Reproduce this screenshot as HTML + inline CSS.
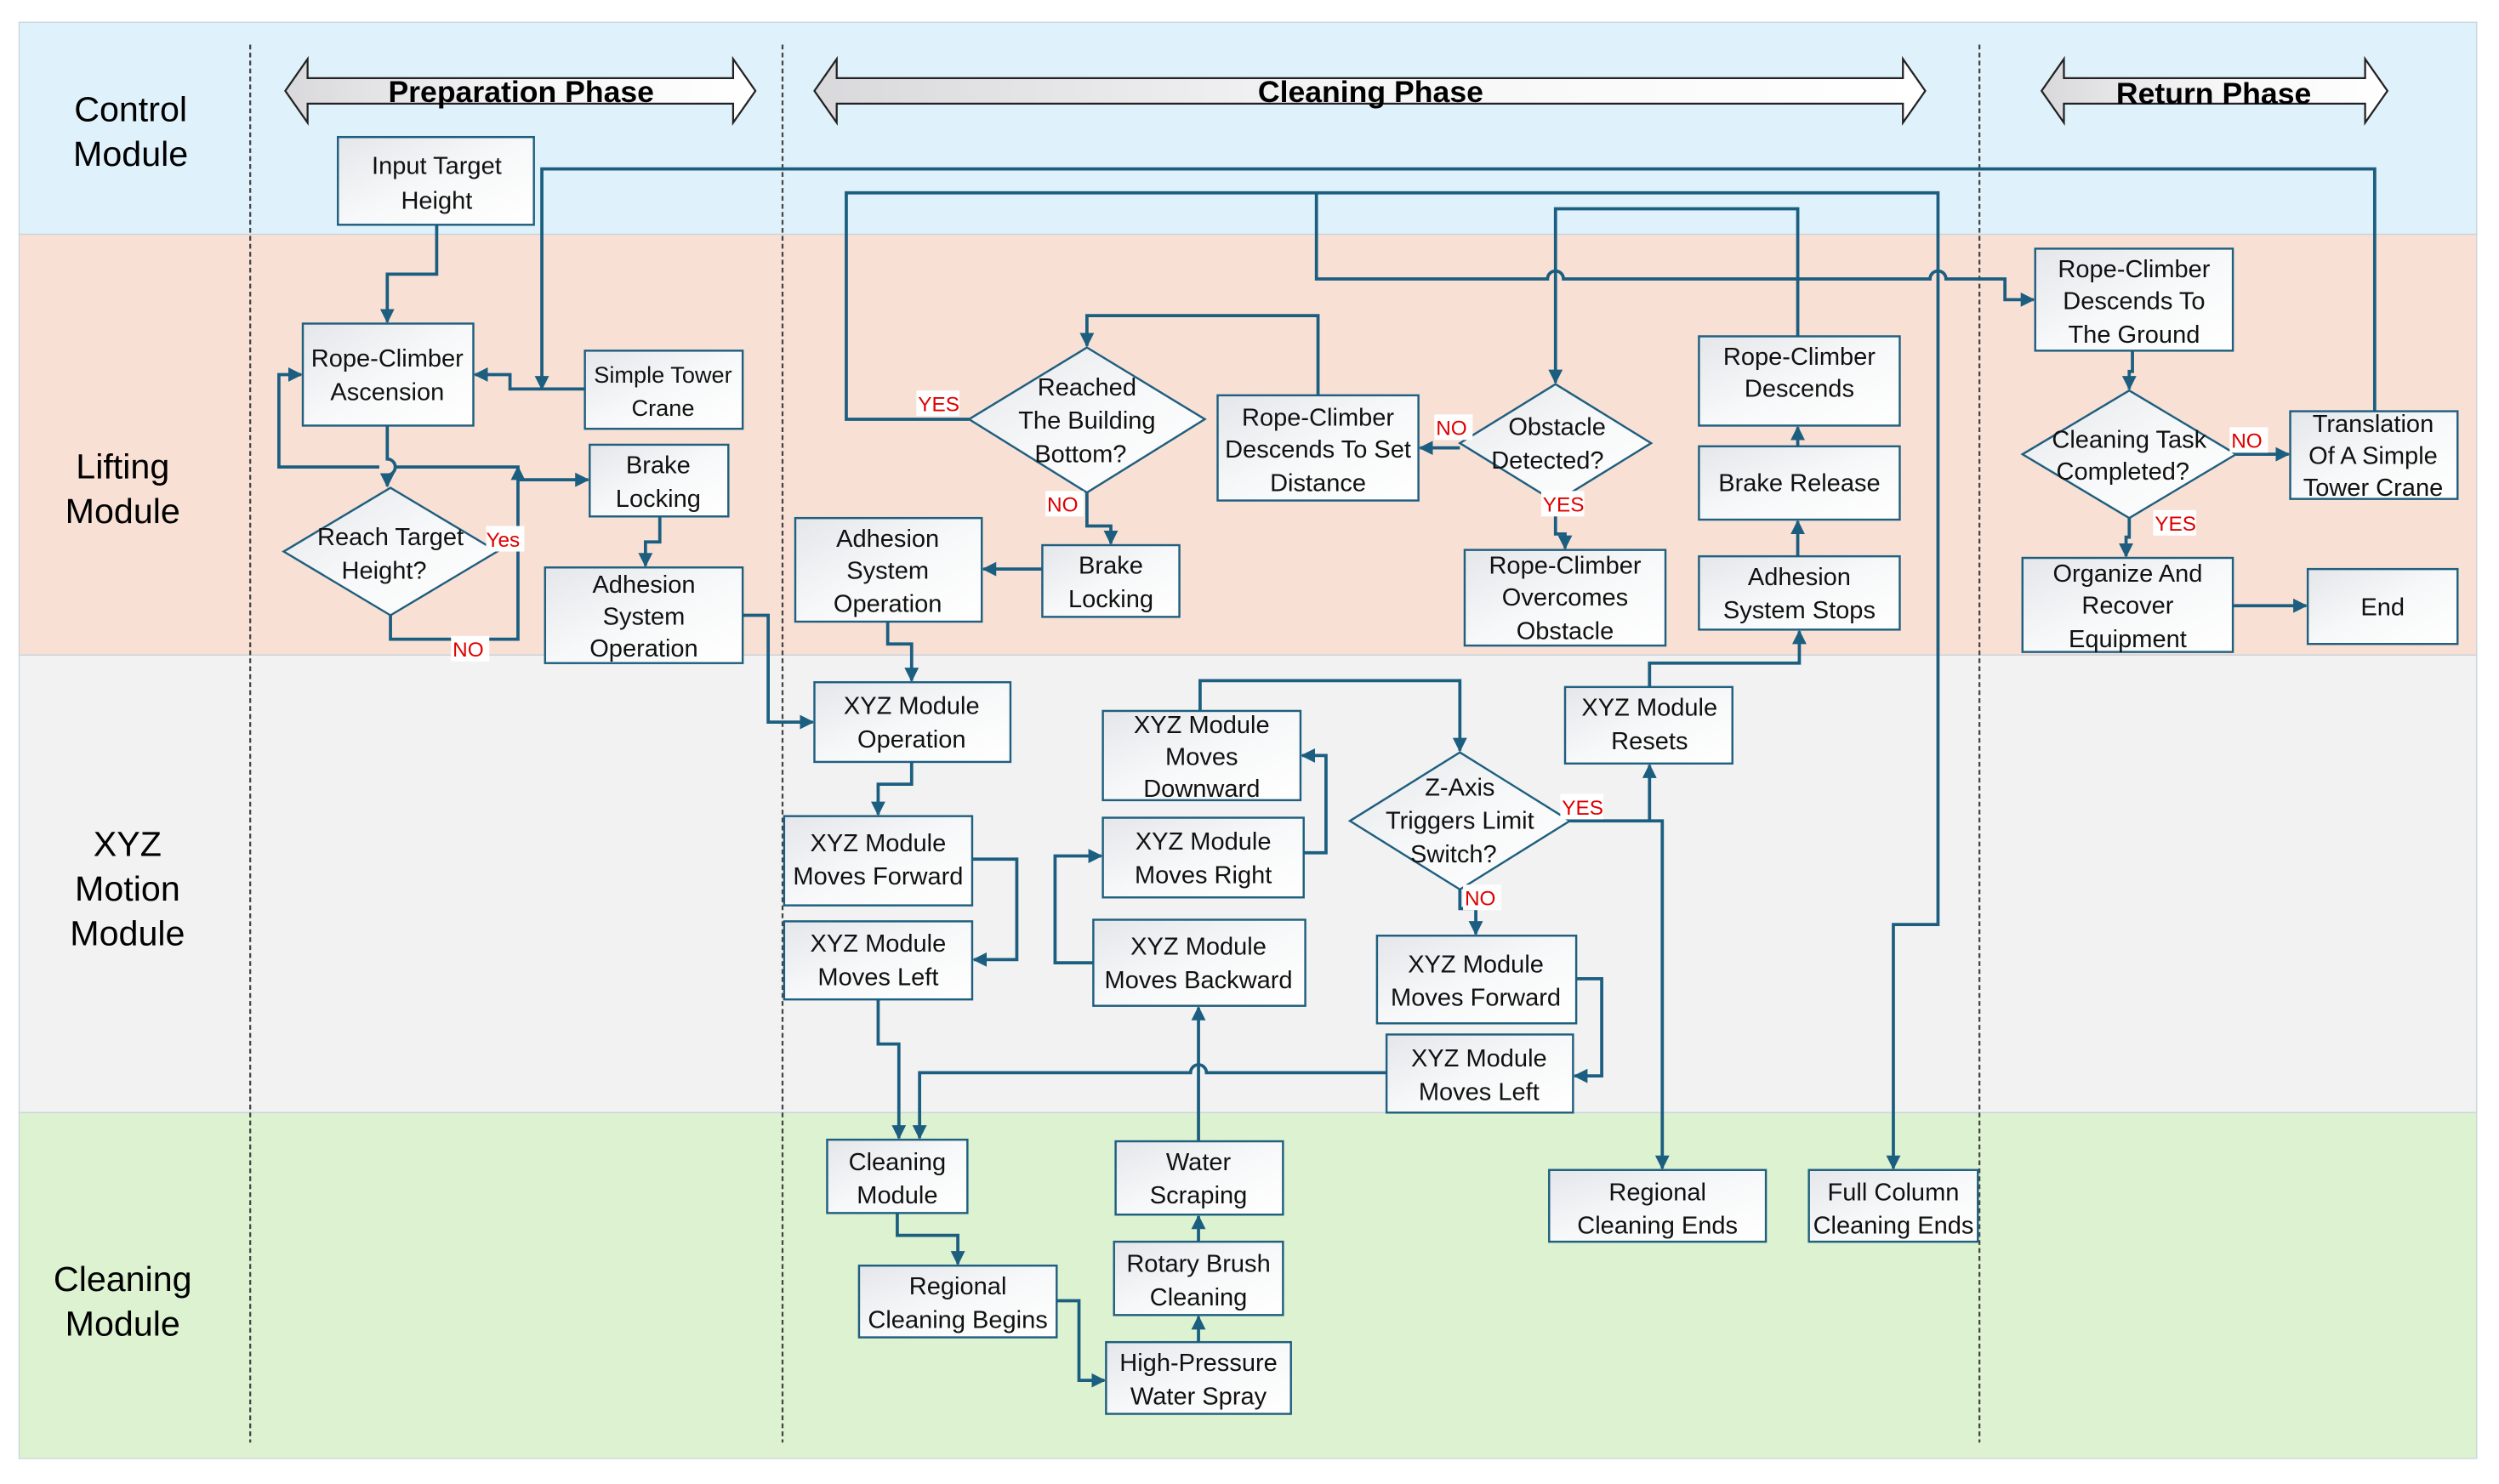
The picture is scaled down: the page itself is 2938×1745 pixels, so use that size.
<!DOCTYPE html>
<html><head><meta charset="utf-8"><style>
html,body{margin:0;padding:0;background:#fff;}
svg{display:block;}
text{font-family:"Liberation Sans","Noto Sans CJK SC",sans-serif;}
</style></head><body>
<svg width="2938" height="1745" viewBox="0 0 1568 931" preserveAspectRatio="none" xmlns="http://www.w3.org/2000/svg">
<defs>
<linearGradient id="g" x1="0" y1="0" x2="1" y2="1"><stop offset="0" stop-color="#e4e6ea"/><stop offset="0.5" stop-color="#f7f8f9"/><stop offset="1" stop-color="#ffffff"/></linearGradient>
<linearGradient id="ga" x1="0" y1="0" x2="1" y2="0"><stop offset="0" stop-color="#d9d9dc"/><stop offset="0.5" stop-color="#f6f6f7"/><stop offset="1" stop-color="#ffffff"/></linearGradient>
<marker id="a" viewBox="0 0 10 10" refX="9" refY="5" markerWidth="4.5" markerHeight="4.5" orient="auto-start-reverse" markerUnits="strokeWidth"><path d="M0,0 L10,5 L0,10 z" fill="#1b5e80"/></marker>
</defs>
<!-- lanes -->
<rect x="12" y="14" width="1542" height="133" fill="#dff1fa" stroke="#c8d4da" stroke-width="0.7"/>
<rect x="12" y="147" width="1542" height="264" fill="#f9e0d5" stroke="#c8d4da" stroke-width="0.7"/>
<rect x="12" y="411" width="1542" height="287" fill="#f2f2f2" stroke="#c8d4da" stroke-width="0.7"/>
<rect x="12" y="698" width="1542" height="217" fill="#dcf2d0" stroke="#c8d4da" stroke-width="0.7"/>
<g stroke="#444" stroke-width="1.2" stroke-dasharray="3,2">
<line x1="157" y1="28" x2="157" y2="905"/><line x1="491" y1="28" x2="491" y2="905"/><line x1="1242" y1="28" x2="1242" y2="905"/></g>
<g font-size="22" text-anchor="middle" fill="#000" font-weight="500">
<text x="82" y="76">Control</text><text x="82" y="104">Module</text>
<text x="77" y="300">Lifting</text><text x="77" y="328">Module</text>
<text x="80" y="537">XYZ</text><text x="80" y="565">Motion</text><text x="80" y="593">Module</text>
<text x="77" y="810">Cleaning</text><text x="77" y="838">Module</text></g>
<!-- phase arrows -->
<g fill="url(#ga)" stroke="#222" stroke-width="1.2">
<path d="M179,57 L193,37 L193,49 L460,49 L460,37 L474,57 L460,77 L460,65 L193,65 L193,77 Z"/>
<path d="M511,57 L525,37 L525,49 L1194,49 L1194,37 L1208,57 L1194,77 L1194,65 L525,65 L525,77 Z"/>
<path d="M1281,57 L1295,37 L1295,49 L1484,49 L1484,37 L1498,57 L1484,77 L1484,65 L1295,65 L1295,77 Z"/>
</g>
<g font-size="19" font-weight="bold" text-anchor="middle"><text x="327" y="64">Preparation Phase</text><text x="860" y="64">Cleaning Phase</text><text x="1389" y="65">Return Phase</text></g>

<!-- boxes -->
<g fill="url(#g)" stroke="#1f5f7f" stroke-width="1.3">
<rect x="212" y="86" width="123" height="55"/>
<rect x="190" y="203" width="107" height="64"/>
<rect x="367" y="220" width="99" height="49"/>
<rect x="370" y="279" width="87" height="45"/>
<rect x="342" y="356" width="124" height="60"/>
<rect x="499" y="325" width="117" height="65"/>
<rect x="764" y="248" width="126" height="66"/>
<rect x="654" y="342" width="86" height="45"/>
<rect x="919" y="345" width="126" height="60"/>
<rect x="1066" y="211" width="126" height="56"/>
<rect x="1066" y="280" width="126" height="46"/>
<rect x="1066" y="349" width="126" height="46"/>
<rect x="511" y="428" width="123" height="50"/>
<rect x="982" y="431" width="105" height="48"/>
<rect x="692" y="446" width="124" height="56"/>
<rect x="492" y="512" width="118" height="56"/>
<rect x="692" y="513" width="126" height="50"/>
<rect x="492" y="578" width="118" height="49"/>
<rect x="686" y="577" width="133" height="54"/>
<rect x="864" y="587" width="125" height="55"/>
<rect x="870" y="649" width="117" height="49"/>
<rect x="519" y="715" width="88" height="46"/>
<rect x="700" y="716" width="105" height="46"/>
<rect x="972" y="734" width="136" height="45"/>
<rect x="1135" y="734" width="106" height="45"/>
<rect x="539" y="794" width="124" height="45"/>
<rect x="699" y="779" width="106" height="46"/>
<rect x="694" y="842" width="116" height="45"/>
<rect x="1277" y="156" width="124" height="64"/>
<rect x="1437" y="258" width="105" height="55"/>
<rect x="1269" y="350" width="132" height="59"/>
<rect x="1448" y="357" width="94" height="47"/>
<path d="M245,306 L312,346 L245,386 L178,346 Z"/>
<path d="M682,218 L756,263 L682,309 L608,263 Z"/>
<path d="M976,241 L1036,278 L976,315 L916,278 Z"/>
<path d="M916,472 L985,515 L916,558 L847,515 Z"/>
<path d="M1336,245 L1403,285 L1336,325 L1269,285 Z"/>
</g>

<!-- connectors -->
<g fill="none" stroke="#1b5e80" stroke-width="2" marker-end="url(#a)">
<path d="M274,141 V172 H243 V202"/>
<path d="M1490,258 V106 H340 V244"/>
<path d="M367,244 H320 V235 H298"/>
<path d="M243,267 V288 a5,5 0 0 1 0,10 V305"/>
<path d="M325,300 V293 H248 M238,293 H175 V235 H189"/>
<path d="M245,386 V401 H325 V293"/>
<path d="M325,301 H369"/>
<path d="M414,324 V340 H405 V355"/>
<path d="M466,386 H482 V453 H510"/>
<path d="M557,390 V404 H572 V427"/>
<path d="M654,357 H617"/>
<path d="M682,309 V330 H697 V341"/>
<path d="M608,263 H531 V121 H1216 V580 H1188 V733"/>
<path d="M826,121 V175 H971 a5,5 0 0 1 10,0 H1211 a5,5 0 0 1 10,0 H1258 V188 H1276"/>
<path d="M827,248 V198 H682 V217"/>
<path d="M1128,211 V131 H976 V240"/>
<path d="M916,281 H891"/>
<path d="M976,315 V335 H982 V344"/>
<path d="M1128,280 V268"/>
<path d="M1128,349 V327"/>
<path d="M1035,431 V416 H1129 V396"/>
<path d="M985,515 H1043 V733"/>
<path d="M1035,515 V480"/>
<path d="M753,446 V427 H916 V471"/>
<path d="M818,535 H832 V474 H817"/>
<path d="M686,604 H662 V537 H691"/>
<path d="M916,558 V570 H926 V586"/>
<path d="M989,614 H1005 V675 H988"/>
<path d="M870,673 H757 a5,5 0 0 0 -10,0 H577 V714"/>
<path d="M572,478 V492 H551 V511"/>
<path d="M610,539 H638 V602 H611"/>
<path d="M551,627 V655 H564 V714"/>
<path d="M563,761 V775 H601 V793"/>
<path d="M663,816 H677 V866 H693"/>
<path d="M752,842 V826"/>
<path d="M752,779 V763"/>
<path d="M752,716 V632"/>
<path d="M1338,220 V233 H1336 V244"/>
<path d="M1403,285 H1436"/>
<path d="M1336,325 V337 H1334 V349"/>
<path d="M1401,380 H1447"/>
</g>

<g font-size="15.5" text-anchor="middle" fill="#111">
<text x="274" y="109">Input Target</text><text x="274" y="131">Height</text>
<text x="243" y="230">Rope-Climber</text><text x="243" y="251">Ascension</text>
<text x="416" y="240" font-size="14.5">Simple Tower</text><text x="416" y="261" font-size="14.5">Crane</text>
<text x="413" y="297">Brake</text><text x="413" y="318">Locking</text>
<text x="245" y="342">Reach Target</text><text x="241" y="363">Height?</text>
<text x="404" y="372">Adhesion</text><text x="404" y="392">System</text><text x="404" y="412">Operation</text>
<text x="557" y="343">Adhesion</text><text x="557" y="363">System</text><text x="557" y="384">Operation</text>
<text x="682" y="248">Reached</text><text x="682" y="269">The Building</text><text x="678" y="290">Bottom?</text>
<text x="827" y="267">Rope-Climber</text><text x="827" y="287">Descends To Set</text><text x="827" y="308">Distance</text>
<text x="697" y="360">Brake</text><text x="697" y="381">Locking</text>
<text x="977" y="273">Obstacle</text><text x="971" y="294">Detected?</text>
<text x="982" y="360">Rope-Climber</text><text x="982" y="380">Overcomes</text><text x="982" y="401">Obstacle</text>
<text x="1129" y="229">Rope-Climber</text><text x="1129" y="249">Descends</text>
<text x="1129" y="308">Brake Release</text>
<text x="1129" y="367">Adhesion</text><text x="1129" y="388">System Stops</text>
<text x="572" y="448">XYZ Module</text><text x="572" y="469">Operation</text>
<text x="1035" y="449">XYZ Module</text><text x="1035" y="470">Resets</text>
<text x="754" y="460">XYZ Module</text><text x="754" y="480">Moves</text><text x="754" y="500">Downward</text>
<text x="916" y="499">Z-Axis</text><text x="916" y="520">Triggers Limit</text><text x="912" y="541">Switch?</text>
<text x="551" y="534">XYZ Module</text><text x="551" y="555">Moves Forward</text>
<text x="755" y="533">XYZ Module</text><text x="755" y="554">Moves Right</text>
<text x="551" y="597">XYZ Module</text><text x="551" y="618">Moves Left</text>
<text x="752" y="599">XYZ Module</text><text x="752" y="620">Moves Backward</text>
<text x="926" y="610">XYZ Module</text><text x="926" y="631">Moves Forward</text>
<text x="928" y="669">XYZ Module</text><text x="928" y="690">Moves Left</text>
<text x="563" y="734">Cleaning</text><text x="563" y="755">Module</text>
<text x="752" y="734">Water</text><text x="752" y="755">Scraping</text>
<text x="1040" y="753">Regional</text><text x="1040" y="774">Cleaning Ends</text>
<text x="1188" y="753">Full Column</text><text x="1188" y="774">Cleaning Ends</text>
<text x="601" y="812">Regional</text><text x="601" y="833">Cleaning Begins</text>
<text x="752" y="798">Rotary Brush</text><text x="752" y="819">Cleaning</text>
<text x="752" y="860">High-Pressure</text><text x="752" y="881">Water Spray</text>
<text x="1339" y="174">Rope-Climber</text><text x="1339" y="194">Descends To</text><text x="1339" y="215">The Ground</text>
<text x="1336" y="281">Cleaning Task</text><text x="1332" y="301">Completed?</text>
<text x="1489" y="271">Translation</text><text x="1489" y="291">Of A Simple</text><text x="1489" y="311">Tower Crane</text>
<text x="1335" y="365">Organize And</text><text x="1335" y="385">Recover</text><text x="1335" y="406">Equipment</text>
<text x="1495" y="386">End</text>
</g>
<g font-size="13" fill="#e00000">
<rect x="305" y="330" width="24" height="16" fill="#fff"/><text x="305" y="343">Yes</text>
<rect x="283" y="399" width="24" height="16" fill="#fff"/><text x="284" y="412">NO</text>
<rect x="575" y="245" width="27" height="16" fill="#fff"/><text x="576" y="258">YES</text>
<rect x="656" y="308" width="24" height="16" fill="#fff"/><text x="657" y="321">NO</text>
<rect x="900" y="260" width="24" height="16" fill="#fff"/><text x="901" y="273">NO</text>
<rect x="967" y="308" width="27" height="16" fill="#fff"/><text x="968" y="321">YES</text>
<rect x="979" y="498" width="27" height="16" fill="#fff"/><text x="980" y="511">YES</text>
<rect x="918" y="555" width="24" height="16" fill="#fff"/><text x="919" y="568">NO</text>
<rect x="1399" y="268" width="24" height="16" fill="#fff"/><text x="1400" y="281">NO</text>
<rect x="1351" y="320" width="27" height="16" fill="#fff"/><text x="1352" y="333">YES</text>
</g>
</svg>
</body></html>
